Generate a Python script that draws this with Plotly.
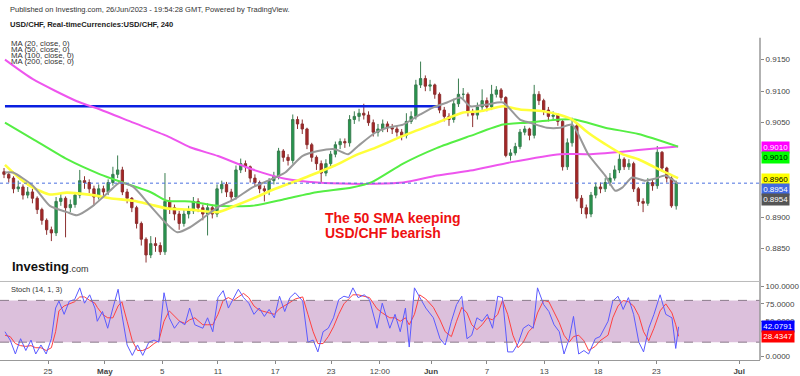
import plotly.graph_objects as go

W, H = 800, 376

# ---------------- price candles (8h sessions, USD/CHF) ----------------
closes = [
    .8968, .8962, .8945, .8948, .8935, .8940, .8930, .8912, .8895, .8880,
    .8875, .8925, .8930, .8915, .8920, .8935, .8958, .8955, .8945, .8932,
    .8945, .8940, .8955, .8968, .8975, .8940, .8930, .8915, .8890, .8865,
    .8840, .8858, .8855, .8845, .8925, .8915, .8905, .8890, .8905, .8910,
    .8925, .8915, .8905, .8915, .8905, .8945, .8952, .8940, .8932, .8975,
    .8985, .8980, .8962, .8955, .8945, .8942, .8958, .8965, .9005, .8995,
    .8990, .9055, .9048, .9040, .9015, .8995, .8985, .8970, .8985, .9000,
    .9015, .9020, .9018, .9055, .9060, .9065, .9062, .9050, .9035, .9040,
    .9048, .9042, .9040, .9035, .9030, .9052, .9060, .9110, .9120, .9108,
    .9110, .9095, .9070, .9060, .9055, .9080, .9095, .9095, .9068, .9062,
    .9075, .9085, .9075, .9095, .9102, .9090, .8998, .9002, .9012, .9035,
    .9040, .9030, .9095, .9085, .9070, .9060, .9062, .9052, .8980, .9018,
    .9045, .8930, .8915, .8905, .8935, .8948, .8945, .8955, .8962, .8975,
    .8992, .8980, .8985, .8945, .8925, .8922, .8955, .8950, .9003, .8978,
    .8962, .8918, .8954]
highs = [
    .8978, .8972, .8965, .8958, .8952, .8948, .8945, .8933, .8915, .8898,
    .8885, .8932, .8938, .8933, .8928, .8940, .8975, .8965, .8960, .8950,
    .8952, .8950, .8960, .8980, .8998, .8980, .8945, .8932, .8918, .8893,
    .8868, .8870, .8868, .8860, .8970, .8932, .8920, .8910, .8912, .8918,
    .8932, .8930, .8920, .8922, .8920, .8952, .8958, .8956, .8945, .8982,
    .8993, .8990, .8982, .8968, .8958, .8950, .8962, .8972, .9010, .9008,
    .9000, .9063, .9060, .9055, .9042, .9018, .8998, .8990, .8992, .9005,
    .9020, .9025, .9025, .9062, .9068, .9072, .9080, .9068, .9055, .9048,
    .9055, .9052, .9048, .9045, .9040, .9065, .9068, .9118, .9147, .9125,
    .9118, .9112, .9098, .9075, .9065, .9088, .9120, .9105, .9098, .9072,
    .9082, .9103, .9090, .9110, .9108, .9105, .9092, .9008, .9018, .9040,
    .9045, .9042, .9110, .9100, .9088, .9075, .9068, .9065, .9055, .9025,
    .9058, .9048, .8935, .8920, .8940, .8955, .8955, .8962, .8970, .8982,
    .9000, .8995, .8992, .8988, .8948, .8930, .8962, .8960, .9013, .9005,
    .8980, .8965, .8958]
lows = [
    .8962, .8955, .8938, .8940, .8928, .8930, .8922, .8905, .8888, .8872,
    .8862, .8870, .8918, .8868, .8908, .8915, .8930, .8945, .8938, .8918,
    .8928, .8932, .8935, .8950, .8962, .8935, .8922, .8908, .8882, .8855,
    .8828, .8835, .8845, .8840, .8840, .8905, .8895, .8880, .8885, .8898,
    .8905, .8908, .8895, .8871, .8898, .8900, .8938, .8932, .8925, .8928,
    .8970, .8972, .8955, .8948, .8938, .8925, .8935, .8952, .8960, .8988,
    .8982, .8985, .9040, .9032, .9008, .8988, .8975, .8955, .8965, .8978,
    .8995, .9008, .9010, .9012, .9048, .9052, .9055, .9045, .9028, .9028,
    .9035, .9035, .9032, .9028, .9022, .9025, .9048, .9055, .9105, .9100,
    .9100, .9088, .9065, .9052, .9045, .9050, .9075, .9088, .9060, .9043,
    .9055, .9070, .9068, .9070, .9090, .9085, .8995, .8990, .8998, .9008,
    .9030, .9022, .9025, .9078, .9062, .9052, .9055, .9045, .8974, .8975,
    .9012, .8925, .8905, .8898, .8900, .8930, .8938, .8940, .8950, .8958,
    .8970, .8975, .8975, .8940, .8918, .8908, .8918, .8942, .8945, .8972,
    .8955, .8915, .8912]
first_open = .8972

# ---------------- moving averages (sampled, session index / value) ----------------
ma20_t = [0.2, 1.9, 6.1, 9.7, 13.3, 15.4, 18.8, 22.4, 24.5, 27.3, 30.9, 34.4, 36.6, 39.3, 41.8,
          45.2, 48.8, 52.4, 55.8, 59.4, 63.0, 66.3, 69.9, 72.7, 74.8, 78.4, 80.9, 84.3, 87.9,
          90.6, 93.6, 96.4, 98.5, 102.1, 105.4, 109.0, 111.1, 114.7, 117.5, 120.0, 123.4,
          127.0, 129.1, 130.6, 132.7, 135.4, 137.5, 139.7, 142.4]
ma20_v = [.8971, .8971, .8950, .8918, .8908, .8903, .8918, .8942, .8955, .8948, .8918, .8889,
          .8876, .8884, .8897, .8916, .8929, .8947, .8958, .8971, .8997, .9005, .9008, .9000,
          .9013, .9034, .9042, .9047, .9063, .9074, .9082, .9090, .9076, .9079, .9082, .9055,
          .9050, .9042, .9042, .9047, .9000, .8966, .8942, .8947, .8963, .8958, .8961, .8966,
          .8953]
ma50_t = [0.2, 3.4, 6.1, 9.7, 13.3, 18.8, 22.4, 27.3, 30.9, 34.4, 39.3, 45.2, 48.8, 52.4, 57.3,
          63.0, 66.3, 69.9, 74.8, 78.4, 84.3, 91.5, 97.0, 100.6, 105.4, 109.0, 113.9, 117.5,
          120.0, 123.4, 127.0, 130.6, 134.0, 137.5, 142.4]
ma50_v = [.8983, .8961, .8947, .8936, .8939, .8935, .8930, .8926, .8920, .8914, .8912, .8908,
          .8918, .8929, .8945, .8961, .8971, .8982, .9000, .9010, .9029, .9050, .9066, .9068,
          .9076, .9071, .9068, .9062, .9055, .9034, .9016, .9000, .8992, .8979, .8962]
ma100_t = [0.2, 6.1, 13.3, 20.3, 25.1, 30.9, 34.4, 39.3, 45.2, 52.4, 59.4, 66.3, 73.5, 77.8,
           84.3, 91.5, 98.5, 105.4, 110.5, 117.5, 120.6, 127.0, 134.0, 142.4]
ma100_v = [.9050, .9024, .8992, .8968, .8955, .8940, .8926, .8925, .8918, .8918, .8929, .8940,
           .8947, .8956, .8985, .9010, .9029, .9047, .9050, .9055, .9055, .9042, .9032, .9012]
ma200_t = [0.2, 6.1, 15.4, 20.3, 27.3, 34.4, 39.3, 45.2, 52.4, 59.4, 66.3, 73.5, 78.4, 84.3,
           91.5, 98.5, 106.9, 117.5, 123.4, 130.6, 137.5, 142.4]
ma200_v = [.9150, .9119, .9084, .9071, .9050, .9029, .9011, .8997, .8976, .8961, .8955, .8953,
           .8953, .8955, .8966, .8974, .8987, .9000, .9000, .9004, .9009, .9012]

level_price = .9076
level_t = [0.2, 92.0]

# ---------------- stochastic (14,1,3) ----------------
stoch_t = [0.2, 1.3, 2.4, 3.5, 4.6, 5.7, 6.7, 7.8, 8.9, 10.0,
           10.9, 11.6, 12.7, 13.8, 14.9, 16.0, 17.0, 18.1, 19.2, 19.7,
           20.8, 21.9, 23.0, 24.1, 24.9, 26.0, 27.1, 28.2, 29.3, 30.6,
           31.7, 32.7, 33.8, 34.9, 36.0, 37.1, 38.2, 39.2, 40.3, 42.0,
           43.0, 44.1, 45.2, 46.3, 47.4, 48.5, 49.5, 50.6, 51.7, 52.8,
           53.9, 55.0, 56.0, 57.1, 58.2, 59.3, 60.4, 61.5, 63.1, 64.2,
           65.3, 66.3, 67.4, 68.5, 69.6, 70.7, 71.8, 72.8, 73.7, 74.8,
           76.1, 77.2, 78.8, 79.9, 81.5, 82.6, 83.7, 84.8, 85.6, 86.7,
           87.8, 89.1, 90.7, 92.1, 93.2, 94.5, 95.6, 96.7, 97.8, 98.8,
           99.9, 101.0, 102.1, 103.2, 104.3, 105.3, 106.4, 107.5, 108.6, 109.7,
           110.8, 111.8, 112.7, 114.0, 115.1, 116.2, 117.3, 118.3, 119.4, 120.3,
           121.4, 122.5, 123.5, 124.9, 125.9, 127.6, 128.6, 129.7, 130.8, 131.9,
           133.0, 134.1, 135.1, 136.2, 137.3, 138.6, 139.8, 141.1, 141.9, 142.5]
stoch_k = [35, 23, 3, 25, 8, 23, 3, 16, 3, 25,
           69, 79, 60, 79, 81, 98, 76, 88, 69, 50,
           64, 40, 69, 96, 60, 16, 1, 16, 1, 20,
           23, 20, 91, 55, 40, 50, 45, 69, 45, 40,
           55, 35, 84, 94, 69, 84, 96, 84, 76, 60,
           69, 57, 67, 55, 86, 64, 84, 91, 79, 20,
           23, 6, 35, 40, 55, 81, 86, 84, 98, 84,
           88, 81, 40, 76, 40, 60, 35, 69, 13, 98,
           84, 69, 55, 25, 16, 50, 74, 86, 25, 30,
           55, 50, 60, 40, 86, 84, 6, 6, 18, 40,
           45, 40, 98, 74, 64, 45, 35, 3, 25, 57,
           3, 8, 3, 25, 28, 50, 79, 86, 67, 84,
           60, 20, 6, 40, 60, 88, 60, 55, 11, 42.0791]
stoch_d = [30, 28, 18, 15, 14, 15, 12, 12, 8, 12,
           35, 65, 72, 75, 78, 85, 85, 80, 76, 70,
           60, 55, 55, 72, 78, 50, 22, 8, 8, 12,
           18, 22, 50, 65, 58, 50, 47, 52, 55, 45,
           45, 45, 60, 80, 84, 80, 85, 90, 84, 72,
           66, 64, 62, 60, 68, 72, 77, 82, 85, 60,
           35, 18, 18, 28, 42, 60, 75, 82, 88, 88,
           86, 84, 68, 62, 55, 55, 50, 55, 45, 60,
           88, 82, 70, 52, 35, 28, 50, 70, 62, 45,
           38, 45, 55, 52, 60, 80, 60, 30, 12, 20,
           35, 42, 62, 80, 78, 62, 48, 30, 20, 28,
           30, 22, 8, 14, 22, 30, 55, 72, 80, 78,
           72, 58, 35, 22, 40, 65, 75, 62, 45, 28.4347]
stoch_band = [20, 80]

# ---------------- axis ticks ----------------
x_tickvals = [9.3, 21.3, 33.4, 45.2, 57.3, 69.1, 79.4, 90.2, 102.0, 114.1, 125.5, 137.8, 155.3]
x_ticktext = ["25", "<b>May</b>", "5", "11", "17", "23", "12:00", "<b>Jun</b>", "7", "13", "18", "23", "<b>Jul</b>"]
price_ticks = [0.8850, 0.8900, 0.9050, 0.9100, 0.9150]
stoch_ticks = [0, 50, 75, 100]

# ---------------- build ----------------
t = list(range(len(closes)))
opens = [first_open] + closes[:-1]
highs = [max(h, o, c) for h, o, c in zip(highs, opens, closes)]
lows = [min(l, o, c) for l, o, c in zip(lows, opens, closes)]


def py(ypx):
    return 1 - ypx / H


FONT = "Liberation Sans, Arial, sans-serif"
XR = [-0.85, 159.7]

fig = go.Figure()
fig.add_trace(go.Candlestick(
    x=t, open=opens, high=highs, low=lows, close=closes,
    increasing=dict(line=dict(color="#3a7d50", width=1), fillcolor="#22994c"),
    decreasing=dict(line=dict(color="#8c3030", width=1), fillcolor="#a82323"),
    whiskerwidth=0, xaxis="x", yaxis="y", showlegend=False, hoverinfo="skip"))

fig.add_trace(go.Scatter(x=level_t, y=[level_price, level_price], mode="lines",
                         line=dict(color="#0a1fe0", width=2.6), xaxis="x", yaxis="y", showlegend=False))
for tt, vv, col, wd in [(ma200_t, ma200_v, "#ee55ee", 2),
                        (ma100_t, ma100_v, "#55ee44", 2),
                        (ma50_t, ma50_v, "#ffff3a", 2.6),
                        (ma20_t, ma20_v, "#999999", 2)]:
    fig.add_trace(go.Scatter(x=tt, y=vv, mode="lines", line=dict(color=col, width=wd, shape="spline", smoothing=0.6),
                             xaxis="x", yaxis="y", showlegend=False, hoverinfo="skip"))

fig.add_trace(go.Scatter(x=stoch_t, y=stoch_d, mode="lines", line=dict(color="#ff4040", width=1),
                         xaxis="x2", yaxis="y2", showlegend=False))
fig.add_trace(go.Scatter(x=stoch_t, y=stoch_k, mode="lines", line=dict(color="#5a5aff", width=1),
                         xaxis="x2", yaxis="y2", showlegend=False))

main_top, main_bot = 38, 282
st_top, st_bot = 284, 362
p_per_px = 1 / 6333
y0_main = 0.885 - (main_bot - 250) * p_per_px
y1_main = 0.915 + (60 - main_top) * p_per_px
s_zero, s_scale = 358.0, 0.70
y0_st = -(st_bot - s_zero) / s_scale
y1_st = (s_zero - st_top) / s_scale

axis_font = dict(family=FONT, size=8, color="#444")
fig.update_layout(
    width=W, height=H, margin=dict(l=0, r=0, t=0, b=0),
    paper_bgcolor="white", plot_bgcolor="white",
    xaxis=dict(domain=[0, 0.95], range=XR, showticklabels=False, showgrid=False, zeroline=False,
               rangeslider=dict(visible=False), fixedrange=True),
    yaxis=dict(domain=[py(main_bot), py(main_top)], range=[y0_main, y1_main], side="right",
               tickvals=price_ticks, ticktext=["%.4f" % v for v in price_ticks],
               ticks="outside", ticklen=3, tickcolor="#888", tickfont=axis_font,
               showgrid=False, zeroline=False, showline=False),
    xaxis2=dict(domain=[0, 0.95], range=XR, anchor="y2", tickvals=x_tickvals, ticktext=x_ticktext,
                ticks="outside", ticklen=3, tickcolor="#888", tickfont=axis_font,
                showgrid=False, zeroline=False, showline=True, linecolor="#999", linewidth=1),
    yaxis2=dict(domain=[py(st_bot), py(st_top)], range=[y0_st, y1_st], side="right", anchor="x2",
                tickvals=stoch_ticks, ticktext=["%.4f" % v for v in stoch_ticks],
                ticks="outside", ticklen=3, tickcolor="#888", tickfont=axis_font,
                showgrid=False, zeroline=False, showline=False),
    font=dict(family=FONT),
)

shapes = []
shapes.append(dict(type="rect", xref="paper", yref="y2", x0=0, x1=0.95, y0=stoch_band[0], y1=stoch_band[1],
                   fillcolor="#dcc0dc", line=dict(width=0), layer="below"))
for b in stoch_band:
    shapes.append(dict(type="line", xref="paper", yref="y2", x0=0, x1=0.95, y0=b, y1=b,
                       line=dict(color="#8a7a8a", width=1, dash="dash")))
shapes.append(dict(type="line", xref="paper", yref="y", x0=0, x1=0.95, y0=closes[-1], y1=closes[-1],
                   line=dict(color="#4a6fe0", width=1, dash="dot")))
shapes.append(dict(type="line", xref="paper", yref="paper", x0=0.95, x1=0.95, y0=py(st_bot), y1=py(main_top),
                   line=dict(color="#999", width=1.5)))
shapes.append(dict(type="line", xref="paper", yref="paper", x0=0, x1=0.95, y0=py(283), y1=py(283),
                   line=dict(color="#bbb", width=1)))
fig.update_layout(shapes=shapes)

ann = []


def text(x, ypx, s, size=8, color="#222", bold=False):
    ann.append(dict(xref="paper", yref="paper", x=x / W, y=py(ypx), xanchor="left", yanchor="middle",
                    text=("<b>%s</b>" % s) if bold else s, showarrow=False,
                    font=dict(family=FONT, size=size, color=color)))


text(8, 10, "Published on Investing.com, 26/Jun/2023 - 19:54:28 GMT, Powered by TradingView.", 7.5, "#333")
text(8, 25, "USD/CHF, Real-timeCurrencies:USD/CHF, 240", 7.6, "#222", True)
for i, s in enumerate(["MA (20, close, 0)", "MA (50, close, 0)", "MA (100, close, 0)", "MA (200, close, 0)"]):
    text(9, 43.5 + 6 * i, s, 7.8, "#333")
text(9, 291, "Stoch (14, 1, 3)", 7.5, "#333")
text(10, 268, "Investing", 13, "#111", True)
text(67, 270, ".com", 9, "#333")
text(323, 219, "The 50 SMA keeping", 14, "#ee1111", True)
text(323, 234, "USD/CHF bearish", 14, "#ee1111", True)


def tag(yval, yref, s, bg, fg, shift=0):
    ann.append(dict(xref="paper", yref=yref, x=0.9515, y=yval, xanchor="left", yanchor="middle",
                    yshift=shift, text=s, showarrow=False, bgcolor=bg, borderpad=1.2,
                    font=dict(family=FONT, size=8, color=fg)))


tag(ma200_v[-1] - 0.0002, "y", "%.4f" % 0.9010, "#ff00ff", "white")
tag(ma200_v[-1] - 0.0002, "y", "%.4f" % 0.9010, "#00ff00", "black", -10)
tag(0.8960, "y", "%.4f" % 0.8960, "#ffff00", "black")
tag(closes[-1], "y", "%.4f" % closes[-1], "#4169e1", "white", -6)
tag(closes[-1], "y", "%.4f" % closes[-1], "#555555", "white", -16)
tag(stoch_k[-1], "y2", "%.4f" % stoch_k[-1], "#0000ff", "white")
tag(stoch_d[-1], "y2", "%.4f" % stoch_d[-1], "#ff0000", "white")
fig.update_layout(annotations=ann)

fig.write_html("out.html", config={"displayModeBar": False, "staticPlot": True},
               post_script="document.body.style.margin='0px';")
